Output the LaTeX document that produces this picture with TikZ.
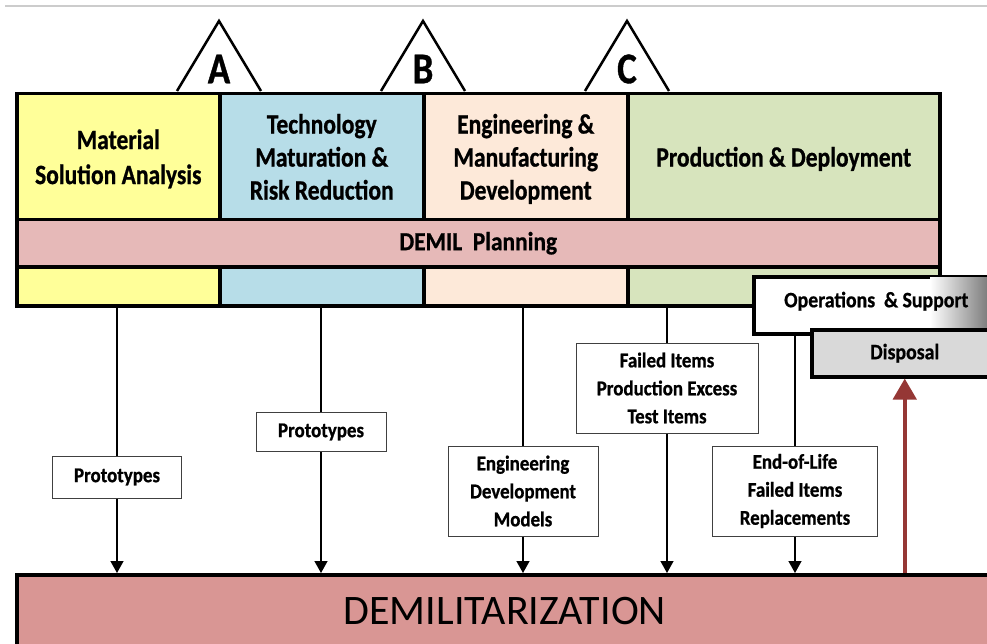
\documentclass[tikz,border=0pt]{standalone}
\usepackage{fontspec}
\setmainfont{Carlito}
\newfontfamily\condb{Carlito}[FakeStretch=0.9, FakeBold=0.8]
\newfontfamily\condp{Carlito}[FakeStretch=0.84, FakeBold=0.8]
\usetikzlibrary{arrows.meta}

\definecolor{ylw}{HTML}{FFFF99}
\definecolor{blu}{HTML}{B7DDE8}
\definecolor{pch}{HTML}{FDE9D9}
\definecolor{grn}{HTML}{D7E4BD}
\definecolor{plan}{HTML}{E6B9B8}
\definecolor{demilc}{HTML}{D99694}
\definecolor{disp}{HTML}{D9D9D9}
\definecolor{redarr}{HTML}{953735}

\tikzset{
  cell/.style={draw, line width=3.5pt, inner sep=0pt, anchor=north west, align=center,
    font=\condb\bfseries\fontsize{26}{34}\selectfont},
  phase/.style={cell, text depth=0pt, font=\condp\bfseries\fontsize{28}{34}\selectfont},
  item/.style={draw=black!75, line width=1pt, fill=white, inner sep=0pt, align=center,
    font=\condb\bfseries\fontsize{21}{28}\selectfont},
  flow/.style={line width=1.4pt, -{Triangle[width=13pt,length=12pt]}},
  gate/.style={font=\condp\bfseries\fontsize{44}{44}\selectfont}
}

\begin{document}
\begin{tikzpicture}[x=1pt, y=-1pt]
\useasboundingbox (0,0) rectangle (987,644);
\fill[white] (0,0) rectangle (987,644);
\draw[gray!40, line width=1.5pt] (5,6) -- (987,6);

% milestones
\draw[line width=2.5pt] (177,91) -- (219,21) -- (261,91);
\draw[line width=2.5pt] (381,91) -- (423,21) -- (465,91);
\draw[line width=2.5pt] (585,91) -- (627,21) -- (669,91);
\node[gate] (mA) at (219,69) {A};
\node[gate] (mB) at (423,69) {B};
\node[gate] (mC) at (627,69) {C};

% phases
\node[phase, fill=ylw, minimum width=203, minimum height=126] (msa) at (15,92)
  {Material\\[1pt]Solution Analysis};
\node[phase, fill=blu, minimum width=204, minimum height=126] (tmrr) at (218,92)
  {Technology\\[-1pt]Maturation \&\\[-1pt]Risk Reduction};
\node[phase, fill=pch, minimum width=204, minimum height=126] (emd) at (422,92)
  {Engineering \&\\[-1pt]Manufacturing\\[-1pt]Development};
\node[phase, fill=grn, minimum width=312, minimum height=126] (pd) at (626,92)
  {Production \& Deployment};
\node[cell, fill=plan, minimum width=923, minimum height=47] (plan) at (15,218)
  {DEMIL\ \ Planning};
\node[cell, fill=ylw, minimum width=203, minimum height=39] (msa2) at (15,265) {};
\node[cell, fill=blu, minimum width=204, minimum height=39] (tmrr2) at (218,265) {};
\node[cell, fill=pch, minimum width=204, minimum height=39] (emd2) at (422,265) {};
\node[cell, fill=grn, minimum width=312, minimum height=39] (pd2) at (626,265) {};

% operations and disposal
\node[cell, fill=white, minimum width=245, minimum height=57] (ops) at (752,275) {};
\fill[left color=white, right color=black!55] (930,277) rectangle (992,330);
\node[font=\condb\bfseries\fontsize{22}{26}\selectfont] (opstxt) at ([yshift=4pt]ops.center)
  {Operations\ \ \& Support};
\node[cell, fill=disp, minimum width=186, minimum height=47,
  font=\condb\bfseries\fontsize{22}{26}\selectfont] (disp) at (810,328) {Disposal};

% demilitarization
\node[cell, fill=demilc, minimum width=976, minimum height=72,
  font=\fontsize{42}{42}\selectfont\mdseries] (demil) at (15,573) {DEMILITARIZATION};

% items
\node[item, minimum width=129, minimum height=42] (proto1) at (117,477) {Prototypes};
\node[item, minimum width=130, minimum height=39] (proto2) at (321,432) {Prototypes};
\node[item, minimum width=150, minimum height=90] (edm) at (523,491)
  {Engineering\\Development\\Models};
\node[item, minimum width=182, minimum height=90] (fail) at (667,388)
  {Failed Items\\Production Excess\\Test Items};
\node[item, minimum width=165, minimum height=90] (eol) at (795,491)
  {End-of-Life\\Failed Items\\Replacements};

\draw[line width=1.4pt] (msa2.south -| proto1) -- (proto1);
\draw[flow] (proto1) -- (proto1 |- demil.north);
\draw[line width=1.4pt] (tmrr2.south -| proto2) -- (proto2);
\draw[flow] (proto2) -- (proto2 |- demil.north);
\draw[line width=1.4pt] (emd2.south -| edm) -- (edm);
\draw[flow] (edm) -- (edm |- demil.north);
\draw[line width=1.4pt] (pd2.south -| fail) -- (fail);
\draw[flow] (fail) -- (fail |- demil.north);
\draw[line width=1.4pt] (ops.south -| eol) -- (eol);
\draw[flow] (eol) -- (eol |- demil.north);

\draw[redarr, line width=4.5pt, -{Triangle[width=23pt,length=21pt]}]
  (demil.north -| disp) -- (disp.south);

\end{tikzpicture}
\end{document}
